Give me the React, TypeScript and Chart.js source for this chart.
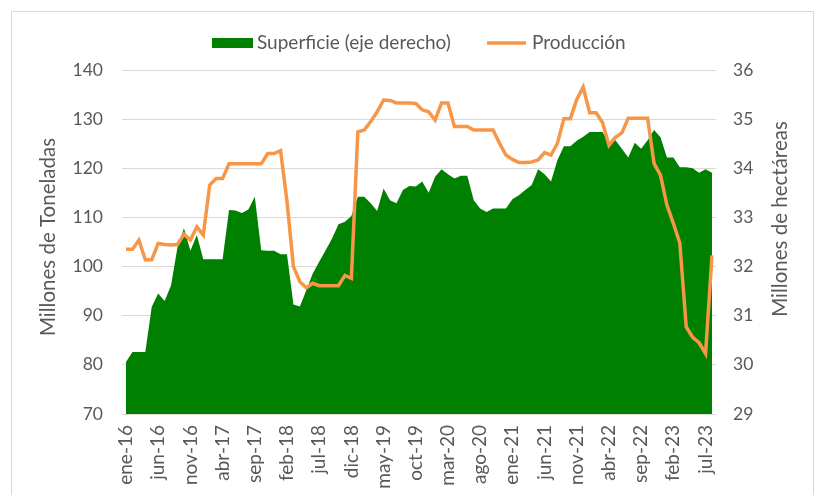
import React, { useEffect, useRef } from 'react';
import { Chart, registerables } from 'chart.js';

Chart.register(...registerables);

const categories = [
  'ene-16','feb-16','mar-16','abr-16','may-16','jun-16','jul-16','ago-16','sep-16','oct-16','nov-16','dic-16',
  'ene-17','feb-17','mar-17','abr-17','may-17','jun-17','jul-17','ago-17','sep-17','oct-17','nov-17','dic-17',
  'ene-18','feb-18','mar-18','abr-18','may-18','jun-18','jul-18','ago-18','sep-18','oct-18','nov-18','dic-18',
  'ene-19','feb-19','mar-19','abr-19','may-19','jun-19','jul-19','ago-19','sep-19','oct-19','nov-19','dic-19',
  'ene-20','feb-20','mar-20','abr-20','may-20','jun-20','jul-20','ago-20','sep-20','oct-20','nov-20','dic-20',
  'ene-21','feb-21','mar-21','abr-21','may-21','jun-21','jul-21','ago-21','sep-21','oct-21','nov-21','dic-21',
  'ene-22','feb-22','mar-22','abr-22','may-22','jun-22','jul-22','ago-22','sep-22','oct-22','nov-22','dic-22',
  'ene-23','feb-23','mar-23','abr-23','may-23','jun-23','jul-23','ago-23',
];

// Superficie (millones de hectáreas, eje derecho)
const superficie = [
  30.06, 30.26, 30.26, 30.26, 31.18, 31.45, 31.30, 31.62, 32.40, 32.78, 32.32, 32.64,
  32.15, 32.15, 32.15, 32.15, 33.15, 33.14, 33.09, 33.16, 33.42, 32.33, 32.32, 32.32,
  32.25, 32.25, 31.23, 31.19, 31.52, 31.86, 32.10, 32.33, 32.57, 32.86, 32.91, 33.03,
  33.42, 33.42, 33.29, 33.13, 33.59, 33.35, 33.29, 33.56, 33.64, 33.63, 33.73, 33.50,
  33.83, 33.98, 33.88, 33.79, 33.85, 33.85, 33.35, 33.18, 33.11, 33.18, 33.18, 33.18,
  33.37, 33.45, 33.56, 33.66, 33.98, 33.88, 33.73, 34.17, 34.45, 34.45, 34.56, 34.64,
  34.74, 34.74, 34.74, 34.52, 34.57, 34.40, 34.22, 34.52, 34.40, 34.57, 34.78, 34.63,
  34.22, 34.22, 34.02, 34.02, 34.00, 33.91, 33.98, 33.91,
];

// Producción (millones de toneladas, eje izquierdo)
const produccion = [
  103.5, 103.5, 105.4, 101.4, 101.4, 104.7, 104.5, 104.4, 104.5, 106.6, 105.4, 108.1,
  106.4, 116.6, 117.9, 117.9, 120.9, 120.9, 120.9, 120.9, 120.9, 120.9, 123.0, 123.0,
  123.6, 113.3, 100.0, 96.9, 95.7, 96.6, 96.1, 96.1, 96.1, 96.1, 98.2, 97.6,
  127.4, 127.8, 129.5, 131.5, 133.9, 133.8, 133.3, 133.3, 133.3, 133.2, 131.9, 131.5,
  129.8, 133.3, 133.3, 128.5, 128.5, 128.5, 127.8, 127.8, 127.8, 127.8, 125.1, 122.7,
  121.8, 121.2, 121.2, 121.3, 121.7, 123.2, 122.7, 125.1, 130.1, 130.1, 134.0, 136.5,
  131.3, 131.3, 129.3, 124.7, 126.3, 127.2, 130.2, 130.2, 130.2, 130.2, 121.0, 118.6,
  112.5, 108.8, 104.8, 87.7, 85.6, 84.5, 82.3, 102.3,
];

const leftAxisTitle = 'Millones de Toneladas';
const rightAxisTitle = 'Millones de hectáreas';
const legendSuperficie = 'Superficie (eje derecho)';
const legendProduccion = 'Producción';

const GREEN = '#008000';
const ORANGE = '#F79646';
const TEXT = '#595959';
const GRID = '#d9d9d9';
const FONT = 'Lato, "Open Sans", sans-serif';

const overlayPlugin = {
  id: 'overlay',
  afterDraw(chart: any) {
    const ctx = chart.ctx;
    ctx.save();
    ctx.font = `19px ${FONT}`;
    ctx.textBaseline = 'middle';
    // legend
    ctx.fillStyle = GREEN;
    ctx.fillRect(212, 38, 41, 10);
    ctx.fillStyle = TEXT;
    ctx.textAlign = 'left';
    ctx.fillText(legendSuperficie, 257, 43);
    ctx.strokeStyle = ORANGE;
    ctx.lineWidth = 3.5;
    ctx.beginPath();
    ctx.moveTo(487, 43);
    ctx.lineTo(526, 43);
    ctx.stroke();
    ctx.fillText(legendProduccion, 532, 43);
    // axis titles
    ctx.font = `20.5px ${FONT}`;
    ctx.textAlign = 'center';
    ctx.save();
    ctx.translate(48, 237);
    ctx.rotate(-Math.PI / 2);
    ctx.fillText(leftAxisTitle, 0, 0);
    ctx.restore();
    ctx.save();
    ctx.translate(780, 219);
    ctx.rotate(-Math.PI / 2);
    ctx.fillText(rightAxisTitle, 0, 0);
    ctx.restore();
    ctx.restore();
  },
};

export default function App() {
  const ref = useRef<HTMLCanvasElement | null>(null);

  useEffect(() => {
    if (!ref.current) return;
    const chart = new Chart(ref.current, {
      type: 'line',
      data: {
        labels: categories,
        datasets: [
          {
            label: legendProduccion,
            data: produccion,
            yAxisID: 'y',
            borderColor: ORANGE,
            borderWidth: 3.5,
            pointRadius: 0,
            tension: 0,
            fill: false,
          },
          {
            label: legendSuperficie,
            data: superficie,
            yAxisID: 'y1',
            borderColor: GREEN,
            borderWidth: 0,
            backgroundColor: GREEN,
            pointRadius: 0,
            tension: 0,
            fill: 'start',
          },
        ],
      },
      options: {
        responsive: false,
        animation: false,
        devicePixelRatio: 1,
        layout: { padding: { top: 70, left: 0, right: 0, bottom: 0 } },
        plugins: {
          legend: { display: false },
          tooltip: { enabled: false },
        },
        scales: {
          x: {
            type: 'category',
            offset: false,
            grid: { display: false, drawTicks: false },
            border: { display: true, color: GRID, width: 1 },
            ticks: {
              autoSkip: false,
              maxRotation: 90,
              minRotation: 90,
              padding: 11,
              color: TEXT,
              font: { family: FONT, size: 19 },
              callback: (_v: any, i: number) => (i % 5 === 0 ? categories[i] : null),
            },
            afterFit: (s: any) => {
              s.height = 81;
            },
          },
          y: {
            position: 'left',
            min: 70,
            max: 140,
            ticks: { stepSize: 10, padding: 19, color: TEXT, font: { family: FONT, size: 17.5 } },
            grid: { color: GRID, lineWidth: 1, tickLength: 4, drawTicks: true },
            border: { display: false },
            afterFit: (s: any) => {
              s.width = 126;
            },
          },
          y1: {
            position: 'right',
            min: 29,
            max: 36,
            ticks: { stepSize: 1, padding: 17, color: TEXT, font: { family: FONT, size: 17.5 } },
            grid: { drawOnChartArea: false, color: GRID, lineWidth: 1, tickLength: 4, drawTicks: true },
            border: { display: false },
            afterFit: (s: any) => {
              s.width = 105;
            },
          },
        },
      },
      plugins: [overlayPlugin],
    } as any);
    return () => chart.destroy();
  }, []);

  return (
    <div>
      <div
        style={{
          position: 'fixed',
          left: 11,
          top: 11,
          width: 803,
          height: 500,
          border: `1px solid ${GRID}`,
          boxSizing: 'border-box',
        }}
      />
      <canvas
        ref={ref}
        width={817}
        height={495}
        style={{ position: 'fixed', left: 0, top: 0, width: 817, height: 495 }}
      />
    </div>
  );
}
